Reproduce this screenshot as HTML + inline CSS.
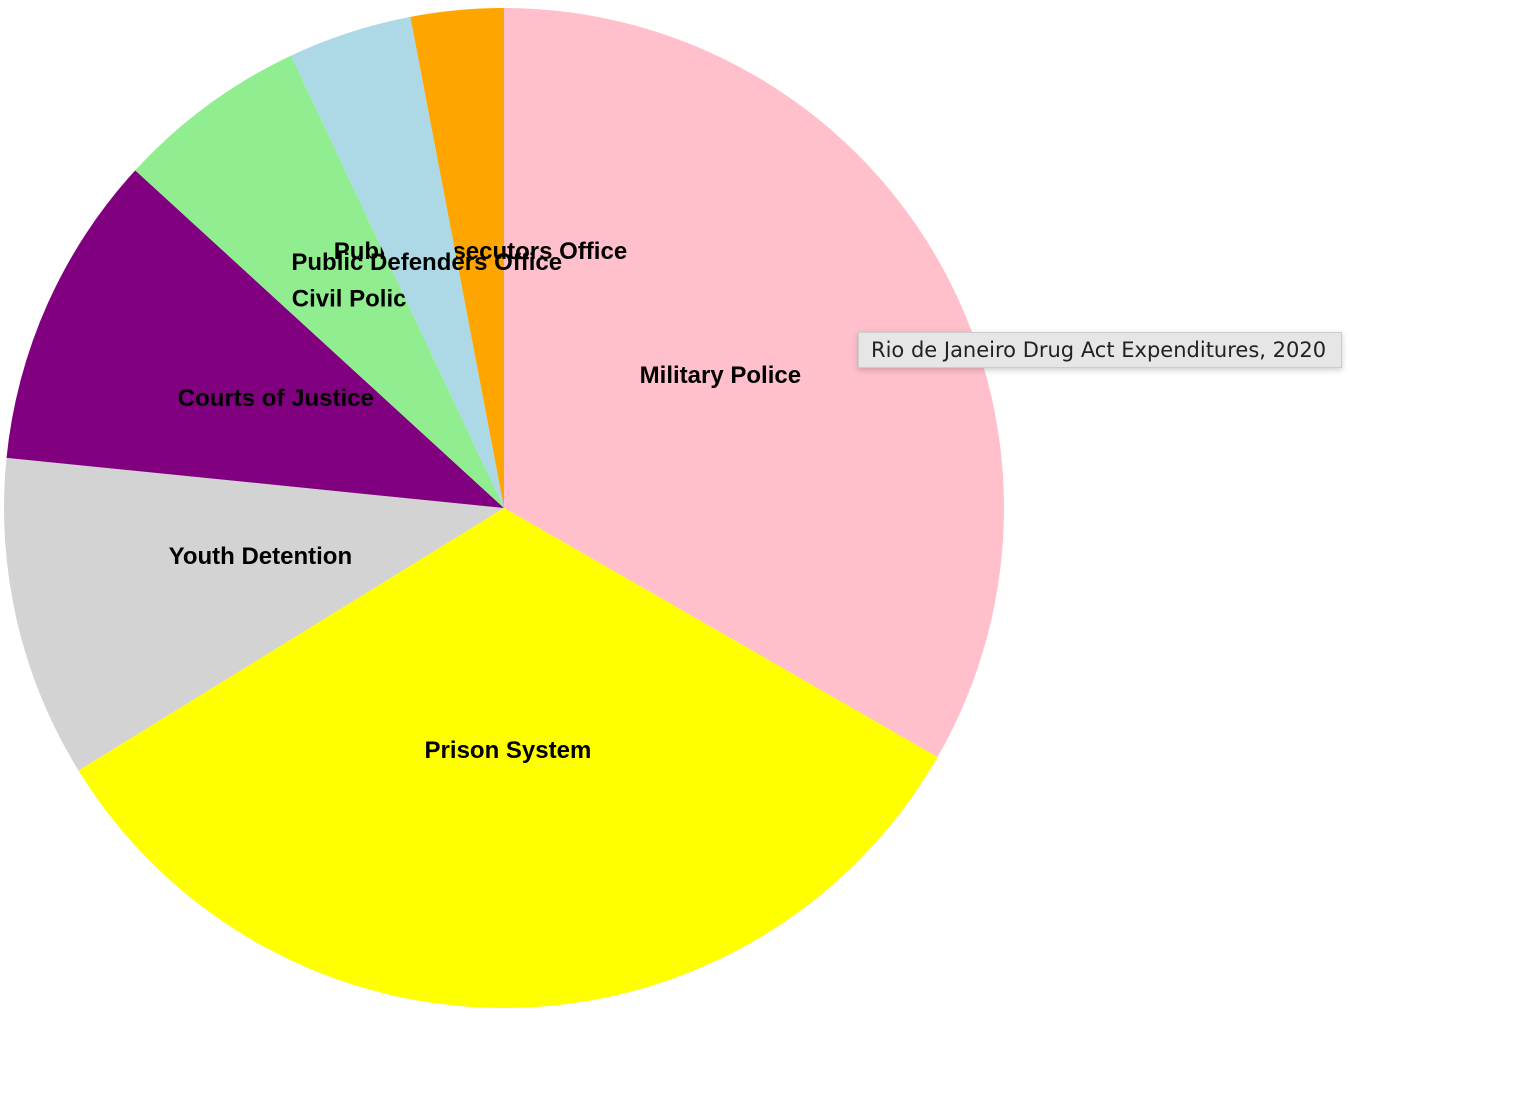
<!DOCTYPE html>
<html><head><meta charset="utf-8"><style>
body{margin:0;background:#fff;width:1514px;height:1094px;overflow:hidden;font-family:"Liberation Sans",sans-serif}
#tip{position:absolute;left:858px;top:332px;width:484px;height:36px;box-sizing:border-box;background:#e6e6e6;border:1px solid #ccc;box-shadow:0 2px 6px rgba(0,0,0,.2);font-size:21px;line-height:34px;padding-left:12px;color:#222;font-family:"DejaVu Sans",sans-serif;white-space:nowrap}
</style></head><body>
<svg id="chart" width="1514" height="1094" style="position:absolute;left:0;top:0"></svg>
<div id="tip">Rio de Janeiro Drug Act Expenditures, 2020</div>
<script>
const categories=["Military Police","Prison System","Youth Detention","Courts of Justice","Civil Police","Public Defenders Office","Public Prosecutors Office"];
const values=[33.3,32.9,10.4,10.2,6.2,4.0,3.0];
const colors=["pink","yellow","lightgray","purple","lightgreen","lightblue","orange"];
const drawOrder=[0,1,2,3,4,6,5];
const svg=document.getElementById('chart');
const NS='http://www.w3.org/2000/svg';
const cx=504,cy=508,R=500;
const total=values.reduce((a,b)=>a+b,0);
const starts=[];let acc=0;
values.forEach(v=>{starts.push(acc);acc+=v;});
function pt(a,r){return [cx+r*Math.sin(a),cy-r*Math.cos(a)];}
drawOrder.forEach(i=>{
  const a0=starts[i]/total*2*Math.PI,a1=(starts[i]+values[i])/total*2*Math.PI;
  const p0=pt(a0,R),p1=pt(a1,R);
  const path=document.createElementNS(NS,'path');
  path.setAttribute('d',`M${cx},${cy}L${p0[0]},${p0[1]}A${R},${R} 0 ${a1-a0>Math.PI?1:0} 1 ${p1[0]},${p1[1]}Z`);
  path.setAttribute('fill',colors[i]);
  
  
  svg.appendChild(path);
  const m=pt((a0+a1)/2,R/2);
  const t=document.createElementNS(NS,'text');
  t.setAttribute('x',m[0]);t.setAttribute('y',m[1]);
  t.setAttribute('text-anchor','middle');
  t.setAttribute('font-weight','bold');t.setAttribute('font-size','24');
  t.setAttribute('font-family','"Liberation Sans",Arial,sans-serif');
  t.textContent=categories[i];
  
  
  svg.appendChild(t);
});
</script>
</body></html>
